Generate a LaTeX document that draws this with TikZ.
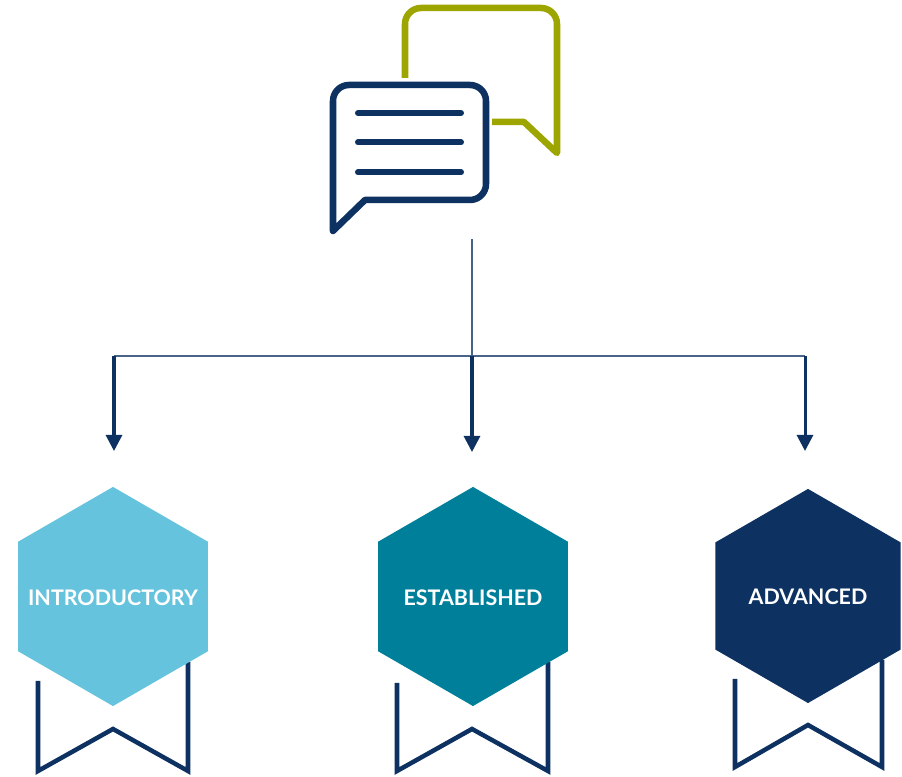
\documentclass[tikz,border=0pt]{standalone}
\usepackage{fontspec}
\setmainfont{Lato}
\usetikzlibrary{shapes.geometric}
\usetikzlibrary{arrows.meta}
\definecolor{navy}{HTML}{0D3160}
\definecolor{olive}{HTML}{9DA600}
\definecolor{sky}{HTML}{66C3DD}
\definecolor{teal}{HTML}{007F9B}
\tikzset{
  badge/.style={regular polygon, regular polygon sides=6, regular polygon rotate=30, minimum size=2.19cm, inner sep=0pt, outer sep=0pt},
  badgetext/.style={text=white, inner sep=0pt, yshift=-.01cm, font=\bfseries\fontsize{6.1pt}{7pt}\selectfont},
  ribbon/.style={draw=navy, line width=.045cm, miter limit=10},
  bubble/.style={line width=.065cm, line join=round, rounded corners=.16cm},
  feed/.style={draw=navy, line width=.03cm, -{Triangle[length=.16cm,width=.16cm]}}
}
\begin{document}
\begin{tikzpicture}[x=.01cm,y=-.01cm]
    \useasboundingbox (0,0) rectangle (902,777);
    % speech bubbles
    \draw[bubble, draw=olive] (405,78) -- (405,8) -- (557,8) [sharp corners] -- (557,153) -- (524,122) -- (492,122);
    \draw[bubble, draw=navy] (333,231) -- (333,85) -- (486,85) -- (486,200) [sharp corners] -- (365,200) -- cycle;
    \foreach \y in {113, 142.5, 172.5}{
      \draw[navy, line width=.06cm, line cap=round] (358,\y) -- (461,\y);
    }
    \coordinate (top) at (472,239);
    \coordinate (bus) at (472,356);
    \coordinate (busl) at (114,356);
    \coordinate (busr) at (805,356);
    \coordinate (tipa) at (114,451);
    \coordinate (tipb) at (472,452);
    \coordinate (tipc) at (805,451);
    \draw[navy!75, line width=.016cm] (top) -- (bus);
    \draw[navy!75, line width=.016cm] (busl) -- (busr);
    \draw[feed] (busl) -- (tipa);
    \draw[feed] (bus) -- (tipb);
    \draw[feed] (busr) -- (tipc);
    % ribbons
    \draw[ribbon] (38,681) -- (38,771) -- (113,729) -- (188,771) -- (188,662);
    \draw[ribbon] (397,683) -- (397,771) -- (472,729) -- (548,771) -- (548,662);
    \draw[ribbon] (735,679) -- (735,767) -- (808,725) -- (882,767) -- (882,660);
    % badges
    \node[badge, fill=sky] (intro) at (113,596.5) {};
    \node[badge, fill=teal] (estab) at (473,596.5) {};
    \node[badge, fill=navy, minimum size=2.14cm] (adv) at (808,596) {};
    \node[badgetext] (introtext) at (intro) {INTRODUCTORY};
    \node[badgetext] (estabtext) at (estab) {ESTABLISHED};
    \node[badgetext] (advtext) at (adv) {ADVANCED};
  \end{tikzpicture}
\end{document}
